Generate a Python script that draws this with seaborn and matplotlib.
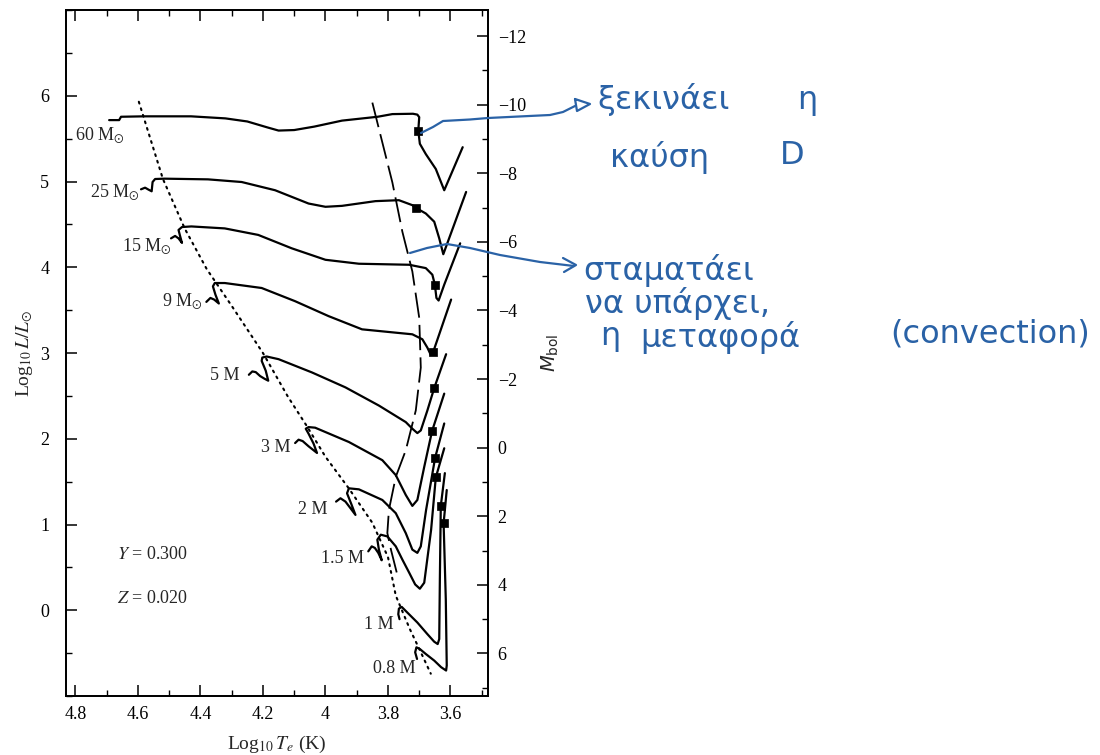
import matplotlib
matplotlib.use("Agg")
import matplotlib.pyplot as plt
from matplotlib.ticker import MultipleLocator, FixedLocator
from matplotlib.lines import Line2D
import pandas as pd
import seaborn as sns

# ---------------- data (log Te, log L/Lsun) ----------------
t60 = [4.692, 4.660, 4.654, 4.58, 4.43, 4.32, 4.25, 4.186, 4.15, 4.10, 4.036, 3.947, 3.833, 3.786, 3.72, 3.706, 3.700, 3.703, 3.698, 3.679, 3.647, 3.620, 3.561]
l60 = [5.716, 5.716, 5.755, 5.76, 5.76, 5.736, 5.70, 5.631, 5.594, 5.60, 5.64, 5.71, 5.755, 5.786, 5.79, 5.78, 5.75, 5.593, 5.44, 5.32, 5.146, 4.898, 5.40]

t25 = [4.590, 4.577, 4.566, 4.556, 4.553, 4.545, 4.515, 4.376, 4.268, 4.161, 4.054, 4.000, 3.947, 3.840, 3.765, 3.722, 3.711, 3.679, 3.652, 3.636, 3.623, 3.550]
l25 = [4.909, 4.928, 4.905, 4.886, 4.994, 5.029, 5.033, 5.025, 4.994, 4.898, 4.743, 4.705, 4.716, 4.771, 4.782, 4.724, 4.693, 4.627, 4.531, 4.337, 4.152, 4.878]

t15 = [4.494, 4.481, 4.470, 4.459, 4.466, 4.470, 4.459, 4.429, 4.322, 4.215, 4.108, 4.000, 3.893, 3.732, 3.679, 3.658, 3.650, 3.645, 3.638, 3.620, 3.569]
l15 = [4.337, 4.365, 4.337, 4.284, 4.377, 4.435, 4.469, 4.476, 4.453, 4.377, 4.221, 4.087, 4.041, 4.029, 3.990, 3.913, 3.797, 3.642, 3.612, 3.797, 4.279]

t9 = [4.381, 4.368, 4.356, 4.341, 4.352, 4.360, 4.354, 4.322, 4.204, 4.097, 3.990, 3.883, 3.775, 3.722, 3.690, 3.674, 3.663, 3.655, 3.598]
l9 = [3.596, 3.642, 3.623, 3.577, 3.681, 3.777, 3.816, 3.816, 3.758, 3.604, 3.430, 3.276, 3.237, 3.218, 3.160, 3.063, 2.978, 3.016, 3.623]

t5 = [4.245, 4.234, 4.223, 4.209, 4.195, 4.183, 4.191, 4.204, 4.202, 4.188, 4.150, 4.043, 3.936, 3.829, 3.743, 3.722, 3.706, 3.695, 3.674, 3.652, 3.614]
l5 = [2.746, 2.785, 2.777, 2.731, 2.700, 2.677, 2.793, 2.908, 2.947, 2.959, 2.928, 2.773, 2.599, 2.387, 2.194, 2.117, 2.066, 2.097, 2.329, 2.592, 2.986]

t3 = [4.097, 4.086, 4.073, 4.054, 4.038, 4.027, 4.038, 4.054, 4.063, 4.054, 4.033, 3.925, 3.818, 3.775, 3.743, 3.722, 3.706, 3.684, 3.659, 3.620]
l3 = [1.950, 1.989, 1.973, 1.912, 1.866, 1.834, 1.943, 2.059, 2.117, 2.136, 2.129, 1.962, 1.750, 1.576, 1.344, 1.217, 1.286, 1.672, 2.089, 2.526]

t2 = [3.966, 3.952, 3.936, 3.920, 3.904, 3.917, 3.931, 3.925, 3.893, 3.818, 3.775, 3.743, 3.722, 3.706, 3.695, 3.678, 3.649, 3.620]
l2 = [1.267, 1.306, 1.267, 1.190, 1.112, 1.236, 1.364, 1.422, 1.410, 1.286, 1.132, 0.899, 0.707, 0.669, 0.745, 1.171, 1.781, 2.178]

t1p5 = [3.863, 3.852, 3.842, 3.831, 3.820, 3.829, 3.834, 3.823, 3.802, 3.775, 3.754, 3.732, 3.713, 3.698, 3.684, 3.662, 3.647, 3.620]
l1p5 = [0.687, 0.745, 0.727, 0.669, 0.583, 0.707, 0.823, 0.881, 0.861, 0.745, 0.591, 0.437, 0.301, 0.251, 0.321, 0.938, 1.549, 1.889]

t1 = [3.763, 3.767, 3.765, 3.756, 3.738, 3.706, 3.674, 3.652, 3.641, 3.636, 3.634, 3.631, 3.618]
l1 = [-0.104, -0.046, 0.019, 0.039, -0.027, -0.143, -0.278, -0.367, -0.394, -0.336, 0.359, 1.217, 1.599]

t0p8 = [3.707, 3.713, 3.709, 3.698, 3.679, 3.652, 3.630, 3.614, 3.612, 3.615, 3.622, 3.612]
l0p8 = [-0.568, -0.490, -0.432, -0.452, -0.510, -0.587, -0.664, -0.703, -0.645, 0.127, 1.014, 1.402]

masses = ["60", "25", "15", "9", "5", "3", "2", "1.5", "1", "0.8"]
track_T = [t60, t25, t15, t9, t5, t3, t2, t1p5, t1, t0p8]
track_L = [l60, l25, l15, l9, l5, l3, l2, l1p5, l1, l0p8]

# black squares on each track
sq_T = [3.703, 3.711, 3.650, 3.655, 3.652, 3.659, 3.649, 3.647, 3.631, 3.622]
sq_L = [5.593, 4.693, 3.797, 3.016, 2.592, 2.089, 1.781, 1.549, 1.217, 1.014]

# zero-age main sequence (dotted)
zams_T = [4.597, 4.52, 4.45, 4.38, 4.30, 4.20, 4.12, 4.06, 4.00, 3.925, 3.85, 3.80, 3.775, 3.73, 3.70, 3.663]
zams_L = [5.93, 5.03, 4.45, 3.98, 3.55, 3.00, 2.49, 2.15, 1.79, 1.42, 1.02, 0.62, 0.17, -0.22, -0.45, -0.74]

# dashed boundary line
dash_T = [3.850, 3.786, 3.754, 3.722, 3.700, 3.695, 3.711, 3.743, 3.775, 3.797, 3.802, 3.790, 3.772]
dash_L = [5.92, 4.99, 4.415, 3.951, 3.41, 2.83, 2.33, 1.866, 1.556, 1.17, 0.90, 0.70, 0.44]

# track labels (right edge, centre)
lab_text = ["60 M$_{\\odot}$", "25 M$_{\\odot}$", "15 M$_{\\odot}$", "9 M$_{\\odot}$",
            "5 M", "3 M", "2 M", "1.5 M", "1 M", "0.8 M"]
lab_T = [4.642, 4.593, 4.491, 4.392, 4.274, 4.113, 3.995, 3.877, 3.781, 3.711]
lab_L = [5.54, 4.878, 4.253, 3.604, 2.735, 1.90, 1.17, 0.60, -0.17, -0.68]

xtick_vals = [4.8, 4.6, 4.4, 4.2, 4.0, 3.8, 3.6]
xtick_labels = ["4.8", "4.6", "4.4", "4.2", "4", "3.8", "3.6"]
ytick_vals = [0, 1, 2, 3, 4, 5, 6]
mbol_ticks = [-12, -10, -8, -6, -4, -2, 0, 2, 4, 6]
MBOL_SUN = 4.74

# ---------------- style ----------------
sns.set_theme(style="ticks")
plt.rcParams['font.family'] = ['Liberation Serif', 'DejaVu Serif']
plt.rcParams['mathtext.fontset'] = 'stix'
plt.rcParams['axes.unicode_minus'] = True

W, H = 1100, 755
fig = plt.figure(figsize=(W / 100, H / 100), dpi=100)
fig.patch.set_facecolor('white')
AL, AR, AT, AB = 66, 488, 10, 696
ax = fig.add_axes([AL / W, 1 - AB / H, (AR - AL) / W, (AB - AT) / H])
ax.set_facecolor('white')

rows = []
for m, ts, ls in zip(masses, track_T, track_L):
    for i, (t, l) in enumerate(zip(ts, ls)):
        rows.append({"mass": m, "i": i, "logT": t, "logL": l})
df = pd.DataFrame(rows)

sns.lineplot(data=df, x="logT", y="logL", units="mass", estimator=None, sort=False,
             color="black", lw=1.6, ax=ax, legend=False)
sns.lineplot(x=zams_T, y=zams_L, sort=False, estimator=None, color="black", lw=1.5,
             linestyle=(0, (0.9, 2.4)), dash_capstyle='round', ax=ax)
sns.lineplot(x=dash_T, y=dash_L, sort=False, estimator=None, color="black", lw=1.3,
             linestyle=(0, (14, 4)), ax=ax)
sns.scatterplot(x=sq_T, y=sq_L, marker="s", s=30, color="black", edgecolor="black",
                linewidth=0.5, ax=ax, zorder=5)

for txt, t, l in zip(lab_text, lab_T, lab_L):
    ax.text(t, l, txt, ha="right", va="center", fontsize=13)

ax.text(4.667, 0.646, r"$Y$ = 0.300", ha="left", va="center", fontsize=13)
ax.text(4.667, 0.135, r"$Z$ = 0.020", ha="left", va="center", fontsize=13)

ax.set_xlim(4.83, 3.48)
ax.set_ylim(-1, 7)
ax.xaxis.set_major_locator(FixedLocator(xtick_vals))
ax.set_xticklabels(xtick_labels)
ax.xaxis.set_minor_locator(MultipleLocator(0.1))
ax.yaxis.set_major_locator(FixedLocator(ytick_vals))
ax.yaxis.set_minor_locator(MultipleLocator(0.5))
ax.tick_params(axis="both", which="both", direction="in", top=True, right=False,
               labelsize=13, colors="black", pad=7)
ax.tick_params(axis="y", which="both", pad=12)
ax.tick_params(which="major", length=8, width=1.1)
ax.tick_params(which="minor", length=4.5, width=1.0)
for sp in ax.spines.values():
    sp.set_color("black")
    sp.set_linewidth(1.3)
ax.set_xlabel(r"Log$_{10}\,T_e$ (K)", fontsize=14, labelpad=8)
ax.set_ylabel(r"Log$_{10}\,L/L_{\odot}$", fontsize=14, labelpad=4)
ax.grid(False)

ax2 = ax.twinx()
ax2.set_ylim(MBOL_SUN + 2.5 * 1, MBOL_SUN - 2.5 * 7)
ax2.yaxis.set_major_locator(FixedLocator(mbol_ticks))
ax2.yaxis.set_minor_locator(MultipleLocator(1))
ax2.tick_params(axis="y", which="both", direction="in", labelsize=13, colors="black", pad=7)
ax2.tick_params(which="major", length=8, width=1.1)
ax2.tick_params(which="minor", length=4.5, width=1.0)
for sp in ax2.spines.values():
    sp.set_color("black")
    sp.set_linewidth(1.3)
ax2.set_ylabel(r"$M_{\mathrm{bol}}$", math_fontfamily="dejavusans", fontsize=14, labelpad=10)
ax2.grid(False)

# ---------------- handwritten blue notes ----------------
BLUE = "#2a62a6"

def fp(px, py):
    return px / W, 1 - py / H

def stroke(pts, lw=1.6):
    xs = [fp(x, y)[0] for x, y in pts]
    ys = [fp(x, y)[1] for x, y in pts]
    fig.add_artist(Line2D(xs, ys, transform=fig.transFigure, color=BLUE, lw=lw,
                          solid_capstyle="round", solid_joinstyle="round"))

stroke([(421, 133), (433, 127), (443, 121), (470, 119.5), (488, 118), (550, 115), (563, 112), (575, 106)])
stroke([(575, 99), (590, 104), (577, 111), (575, 99)])
stroke([(410, 253), (427, 248), (447, 244), (470, 248), (500, 255), (540, 262), (574, 266)])
stroke([(563, 258), (576, 265), (564, 272)])

hw = dict(color=BLUE, fontsize=23, family=["DejaVu Sans"], va="center")
notes = [("ξεκινάει", 597, 100, "left"), ("η", 797, 100, "left"),
         ("καύση", 610, 158, "left"), ("D", 780, 156, "left"),
         ("σταματάει", 583, 270, "left"), ("να υπάρχει,", 585, 303, "left"),
         ("η", 600, 336, "left"), ("μεταφορά", 640, 338, "left"),
         ("(convection)", 1090, 334, "right")]
for s, px, py, ha in notes:
    x, y = fp(px, py)
    fig.text(x, y, s, ha=ha, **hw)

fig.savefig("out.png", dpi=100, facecolor="white")
